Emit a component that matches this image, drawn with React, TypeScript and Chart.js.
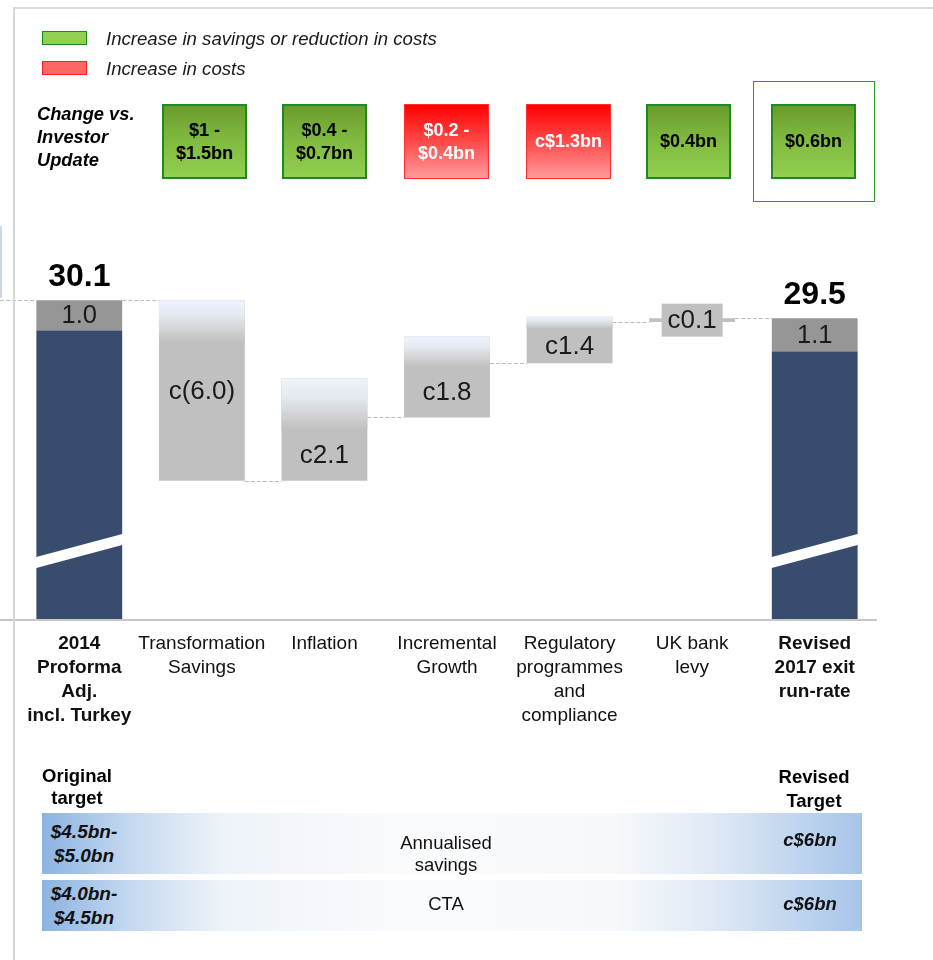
import React, { useEffect, useRef } from "react";
import { Chart, registerables } from "chart.js";

Chart.register(...registerables);

const FONT = "'Liberation Sans', Arial, Helvetica, sans-serif";

// ---------- data ----------
const categories: string[][] = [
  ["2014", "Proforma", "Adj.", "incl. Turkey"],
  ["Transformation", "Savings"],
  ["Inflation"],
  ["Incremental", "Growth"],
  ["Regulatory", "programmes", "and", "compliance"],
  ["UK bank", "levy"],
  ["Revised", "2017 exit", "run-rate"],
];
const totalValues: (number | null)[] = [30.1, null, null, null, null, null, 29.5];
const totalTopSegments: (number | null)[] = [1.0, null, null, null, null, null, 1.1];
const stepValues: (number | null)[] = [null, -6.0, 2.1, 1.8, 1.4, 0.1, null];
const stepLabels: string[] = ["", "c(6.0)", "c2.1", "c1.8", "c1.4", "c0.1", ""];
// the chart is not drawn to scale: extents of the step bars as drawn
const stepDrawnLow: (number | null)[] = [null, 24.1, 24.1, 26.2, 28.0, 29.37, null];
const stepDrawnHigh: (number | null)[] = [null, 30.1, 27.5, 28.9, 29.55, 29.5, null];
const stepFadeLow: (number | null)[] = [null, 28.7, 25.8, 27.9, 29.15, null, null];
const axisMin = 19.5;
const axisMax = 32.1;
const breakValue = 21.76;

const legendItems = [
  { kind: "saving", text: "Increase in savings or reduction in costs" },
  { kind: "cost", text: "Increase in costs" },
];
const changeTitle = ["Change vs.", "Investor", "Update"];
const changeLabels: string[][] = [
  ["$1 -", "$1.5bn"],
  ["$0.4 -", "$0.7bn"],
  ["$0.2 -", "$0.4bn"],
  ["c$1.3bn"],
  ["$0.4bn"],
  ["$0.6bn"],
];
const changeKinds = ["saving", "saving", "cost", "cost", "saving", "saving"];
const originalHeader = ["Original", "target"];
const revisedHeader = ["Revised", "Target"];
const targetOriginal: string[][] = [["$4.5bn-", "$5.0bn"], ["$4.0bn-", "$4.5bn"]];
const targetNames: string[][] = [["Annualised", "savings"], ["CTA"]];
const targetRevised: string[] = ["c$6bn", "c$6bn"];

// ---------- styles ----------
const NAVY = "#384d6d";
const SEG_GRAY = "#969696";
const STEP_GRAY = "#c0c0c0";
const boxLefts = [162, 282, 404, 526, 646, 771];
const labelAnchor = ["", "mid", "solid", "solid", "solid", "mid", ""];

const decorPlugin = {
  id: "waterfallDecor",
  afterDatasetsDraw(chart: any) {
    const { ctx, chartArea, scales } = chart;
    const xs = scales.x;
    const ys = scales.y;
    const n = categories.length;
    const catW = (chartArea.right - chartArea.left) / n;
    const barW = catW * 0.7;
    const left = (i: number) => xs.getPixelForValue(i) - barW / 2;
    const right = (i: number) => xs.getPixelForValue(i) + barW / 2;
    const startValue = (i: number): number =>
      totalValues[i] != null
        ? (totalValues[i] as number)
        : (stepValues[i] as number) < 0
        ? (stepDrawnHigh[i] as number)
        : (stepDrawnLow[i] as number);

    ctx.save();
    // break stripes on the total bars
    for (let i = 0; i < n; i++) {
      if (totalValues[i] == null) continue;
      const l = left(i) - 1;
      const r = right(i) + 1;
      const yc = ys.getPixelForValue(breakValue);
      const rise = 11.75;
      const th = 5.5;
      ctx.beginPath();
      ctx.moveTo(l, yc + rise - th);
      ctx.lineTo(r, yc - rise - th);
      ctx.lineTo(r, yc - rise + th);
      ctx.lineTo(l, yc + rise + th);
      ctx.closePath();
      ctx.fillStyle = "#ffffff";
      ctx.fill();
    }

    // dashed connectors
    ctx.setLineDash([4, 2]);
    ctx.strokeStyle = "#bdbdbd";
    ctx.lineWidth = 1;
    const hline = (x1: number, x2: number, v: number) => {
      const y = Math.round(ys.getPixelForValue(v)) + 0.5;
      ctx.beginPath();
      ctx.moveTo(x1, y);
      ctx.lineTo(x2, y);
      ctx.stroke();
    };
    hline(0, left(0), startValue(0));
    for (let i = 0; i < n - 1; i++) hline(right(i), left(i + 1), startValue(i + 1));

    // axis line
    ctx.setLineDash([]);
    ctx.strokeStyle = "#c6c6c6";
    ctx.lineWidth = 2;
    ctx.beginPath();
    ctx.moveTo(0, chartArea.bottom + 1);
    ctx.lineTo(chartArea.right + 1, chartArea.bottom + 1);
    ctx.stroke();

    // labels
    ctx.textAlign = "center";
    ctx.textBaseline = "middle";
    for (let i = 0; i < n; i++) {
      const cx = xs.getPixelForValue(i);
      if (totalValues[i] != null) {
        const t = totalValues[i] as number;
        const s = totalTopSegments[i] as number;
        ctx.fillStyle = "#000";
        ctx.font = `bold 32px ${FONT}`;
        ctx.fillText(t.toFixed(1), cx, ys.getPixelForValue(t) - 23);
        ctx.fillStyle = "#1a1a1a";
        ctx.font = `25.5px ${FONT}`;
        const ym = (ys.getPixelForValue(t) + ys.getPixelForValue(t - s)) / 2 + 1;
        ctx.fillText(s.toFixed(1), cx, ym);
      } else if (stepValues[i] != null) {
        const lo = ys.getPixelForValue(stepDrawnLow[i] as number);
        const hi = ys.getPixelForValue(stepDrawnHigh[i] as number);
        let ym = (lo + hi) / 2;
        if (labelAnchor[i] === "solid" && stepFadeLow[i] != null) {
          ym = (lo + ys.getPixelForValue(stepFadeLow[i] as number)) / 2;
        }
        if (Math.abs(lo - hi) < 20) {
          ctx.fillStyle = STEP_GRAY;
          ctx.fillRect(cx - 30.5, ym - 16.5, 61, 33);
        }
        ctx.fillStyle = "#1a1a1a";
        ctx.font = `26px ${FONT}`;
        ctx.fillText(stepLabels[i], cx, ym + 1);
      }
    }
    ctx.restore();
  },
};

const abs = (l: number, t: number, extra: React.CSSProperties = {}): React.CSSProperties => ({
  position: "absolute",
  left: l,
  top: t,
  fontFamily: FONT,
  ...extra,
});

export default function App() {
  const ref = useRef<HTMLCanvasElement>(null);

  useEffect(() => {
    const canvas = ref.current;
    if (!canvas) return;
    const idx = categories.map((_, i) => i);

    const fadeFill = (c: any) => {
      const chart = c.chart;
      const raw = c.raw as [number, number] | null;
      if (!chart.chartArea || !raw) return "#e3e8ef";
      const yTop = chart.scales.y.getPixelForValue(raw[1]);
      const yBot = chart.scales.y.getPixelForValue(raw[0]);
      const g = chart.ctx.createLinearGradient(0, yTop, 0, yBot);
      g.addColorStop(0, "#eef3fc");
      g.addColorStop(0.35, "#e5eaf1");
      g.addColorStop(1, STEP_GRAY);
      return g;
    };

    const chart = new Chart(canvas, {
      type: "bar",
      data: {
        labels: categories,
        datasets: [
          {
            label: "fade",
            data: idx.map((i) =>
              stepFadeLow[i] != null ? [stepFadeLow[i] as number, stepDrawnHigh[i] as number] : null
            ) as any,
            backgroundColor: fadeFill as any,
            order: 0,
          },
          {
            label: "step",
            data: idx.map((i) =>
              stepDrawnLow[i] != null ? [stepDrawnLow[i] as number, stepDrawnHigh[i] as number] : null
            ) as any,
            backgroundColor: STEP_GRAY,
            order: 1,
          },
          {
            label: "segment",
            data: idx.map((i) =>
              totalValues[i] != null
                ? [(totalValues[i] as number) - (totalTopSegments[i] as number), totalValues[i] as number]
                : null
            ) as any,
            backgroundColor: SEG_GRAY,
            order: 1,
          },
          {
            label: "base",
            data: idx.map((i) =>
              totalValues[i] != null ? (totalValues[i] as number) - (totalTopSegments[i] as number) : null
            ) as any,
            backgroundColor: NAVY,
            order: 2,
          },
        ],
      },
      options: {
        responsive: false,
        animation: false,
        devicePixelRatio: 1,
        layout: { padding: { left: 18, right: 57, top: 240, bottom: 211 } },
        datasets: {
          bar: { grouped: false, categoryPercentage: 0.7, barPercentage: 1, borderWidth: 0 } as any,
        },
        plugins: { legend: { display: false }, tooltip: { enabled: false } },
        scales: {
          x: {
            grid: { display: false, drawTicks: false },
            border: { display: false },
            ticks: {
              autoSkip: false,
              maxRotation: 0,
              minRotation: 0,
              padding: 13,
              color: "#111",
              font: ((c: any) => ({
                family: FONT,
                size: 19,
                lineHeight: 24 / 19,
                weight: totalValues[c.index] != null ? "bold" : "normal",
              })) as any,
            },
            afterFit: (s: any) => {
              s.height = 130;
            },
          },
          y: { display: false, min: axisMin, max: axisMax },
        },
      },
      plugins: [decorPlugin],
    });
    return () => chart.destroy();
  }, []);

  const rowTops = [813, 880];
  const rowHeights = [61, 51];

  return (
    <div style={{ position: "absolute", left: 0, top: 0, width: 933, height: 960, background: "#fff", overflow: "hidden" }}>
      <canvas ref={ref} width={933} height={960} style={{ position: "absolute", left: 0, top: 0 }} />

      {/* frame */}
      <div style={abs(13, 7, { width: 920, height: 2, background: "#dadada" })} />
      <div style={abs(13, 7, { width: 2, height: 953, background: "#d6d6d6" })} />
      <div style={abs(0, 226, { width: 2, height: 72, background: "#cbd8ec" })} />

      {/* legend */}
      {legendItems.map((it, k) => (
        <React.Fragment key={k}>
          <div
            style={abs(42, 31 + k * 30, {
              width: 45,
              height: 14,
              boxSizing: "border-box",
              background: it.kind === "saving" ? "#92d050" : "#ff6666",
              border: it.kind === "saving" ? "1px solid #1a8c1a" : "1px solid #ff2020",
            })}
          />
          <div style={abs(106, 28 + k * 30, { fontSize: 18.6, lineHeight: "21px", fontStyle: "italic", color: "#1a1a1a", whiteSpace: "nowrap" })}>
            {it.text}
          </div>
        </React.Fragment>
      ))}

      {/* change vs investor update */}
      <div style={abs(37, 102, { fontSize: 18.3, lineHeight: "23px", fontWeight: "bold", fontStyle: "italic", color: "#000", whiteSpace: "nowrap" })}>
        {changeTitle.map((t, k) => (
          <div key={k}>{t}</div>
        ))}
      </div>
      <div style={abs(753, 81, { width: 122, height: 121, boxSizing: "border-box", border: "1px solid #2a9a2a" })} />
      {changeLabels.map((lines, k) => {
        const saving = changeKinds[k] === "saving";
        return (
          <div
            key={k}
            style={abs(boxLefts[k], 104, {
              width: 85,
              height: 75,
              boxSizing: "border-box",
              border: saving ? "2px solid #1f8a1f" : "1px solid #ff3030",
              background: saving
                ? "linear-gradient(to bottom, #6a9c2d 0%, #7fb83e 45%, #92d050 100%)"
                : "linear-gradient(to bottom, #ff0000 0%, #ff4a4a 50%, #ff9a9a 100%)",
              color: saving ? "#000" : "#fff",
              fontSize: 18,
              lineHeight: "23px",
              fontWeight: "bold",
              display: "flex",
              flexDirection: "column",
              alignItems: "center",
              justifyContent: "center",
              whiteSpace: "nowrap",
            })}
          >
            {lines.map((t, j) => (
              <div key={j}>{t}</div>
            ))}
          </div>
        );
      })}

      {/* targets */}
      <div style={abs(32, 765, { width: 90, textAlign: "center", fontSize: 18.5, lineHeight: "22px", fontWeight: "bold", color: "#000" })}>
        {originalHeader.map((t, k) => (
          <div key={k}>{t}</div>
        ))}
      </div>
      <div style={abs(769, 765, { width: 90, textAlign: "center", fontSize: 18.5, lineHeight: "24px", fontWeight: "bold", color: "#000" })}>
        {revisedHeader.map((t, k) => (
          <div key={k}>{t}</div>
        ))}
      </div>
      {targetNames.map((name, r) => (
        <div
          key={r}
          style={abs(42, rowTops[r], {
            width: 820,
            height: rowHeights[r],
            background:
              "linear-gradient(to right, #8cb3e1 0%, #c6d9f0 11%, #eef3f9 22%, #fafbfd 45%, #f6f8fb 70%, #dfe9f5 82%, #a7c5ea 100%)",
          })}
        >
          <div style={abs(0, 0, { width: 84, height: rowHeights[r], display: "flex", flexDirection: "column", justifyContent: "center", alignItems: "center", fontSize: 19, lineHeight: "24px", fontWeight: "bold", fontStyle: "italic", color: "#111", whiteSpace: "nowrap" })}>
            {targetOriginal[r].map((t, k) => (
              <div key={k}>{t}</div>
            ))}
          </div>
          <div style={abs(304, r === 0 ? 10 : -2, { width: 200, height: rowHeights[r], display: "flex", flexDirection: "column", justifyContent: "center", alignItems: "center", fontSize: 18.5, lineHeight: "22px", color: "#111" })}>
            {name.map((t, k) => (
              <div key={k}>{t}</div>
            ))}
          </div>
          <div style={abs(718, r === 0 ? -4 : -2, { width: 100, height: rowHeights[r], display: "flex", alignItems: "center", justifyContent: "center", fontSize: 18.5, fontWeight: "bold", fontStyle: "italic", color: "#111" })}>
            {targetRevised[r]}
          </div>
        </div>
      ))}
    </div>
  );
}
